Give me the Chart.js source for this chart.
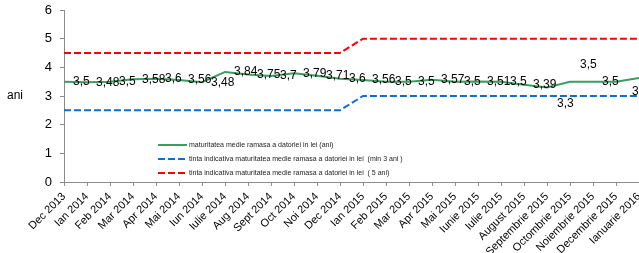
<!DOCTYPE html>
<html>
<head>
<meta charset="utf-8">
<script src="https://cdn.jsdelivr.net/npm/chart.js@4/dist/chart.umd.min.js"></script>
<style>
  html, body { margin: 0; padding: 0; background: #fff; }
</style>
</head>
<body>
<canvas id="myChart" width="639" height="253"></canvas>
<script>
// date
const luni = [
  "Dec 2013", "Ian 2014", "Feb 2014", "Mar 2014", "Apr 2014", "Mai 2014",
  "Iun 2014", "Iulie 2014", "Aug 2014", "Sept 2014", "Oct 2014", "Noi 2014",
  "Dec 2014", "Ian 2015", "Feb 2015", "Mar 2015", "Apr 2015", "Mai 2015",
  "Iunie 2015", "Iulie 2015", "August 2015", "Septembrie 2015",
  "Octombrie 2015", "Noiembrie 2015", "Decembrie 2015", "Ianuarie 2016"
];
const maturitate = [
  3.5, 3.48, 3.5, 3.58, 3.6, 3.56, 3.48, 3.84, 3.75, 3.7, 3.79, 3.71, 3.6,
  3.56, 3.5, 3.5, 3.57, 3.5, 3.51, 3.5, 3.39, 3.3, 3.5, 3.5, 3.5, 3.63
];
const tintaMin3 = [
  2.5, 2.5, 2.5, 2.5, 2.5, 2.5, 2.5, 2.5, 2.5, 2.5, 2.5, 2.5, 2.5,
  3, 3, 3, 3, 3, 3, 3, 3, 3, 3, 3, 3, 3
];
const tinta5 = [
  4.5, 4.5, 4.5, 4.5, 4.5, 4.5, 4.5, 4.5, 4.5, 4.5, 4.5, 4.5, 4.5,
  5, 5, 5, 5, 5, 5, 5, 5, 5, 5, 5, 5, 5
];
const valoriAx = [0, 1, 2, 3, 4, 5, 6];
const numeSerii = [
  "maturitatea medie ramasa a datoriei in lei (ani)",
  "tinta indicativa maturitatea medie ramasa a datoriei in lei  (min 3 ani )",
  "tinta indicativa maturitatea medie ramasa a datoriei in lei  ( 5 ani)"
];

// etichetele care nu stau in dreapta punctului (dx, dy)
const mutareEticheta = { 21: [10, 16], 22: [10, -17], 24: [16, 10] };

Chart.defaults.font.family = "'Liberation Sans', Arial, sans-serif";
Chart.defaults.color = "#000";

const etichetePuncte = {
  id: "etichetePuncte",
  afterDatasetsDraw(chart) {
    const ctx = chart.ctx;
    const meta = chart.getDatasetMeta(0);
    ctx.save();
    ctx.font = "12px 'Liberation Sans', Arial, sans-serif";
    ctx.fillStyle = "#000";
    ctx.textAlign = "left";
    ctx.textBaseline = "middle";
    meta.data.forEach((pt, i) => {
      const m = mutareEticheta[i] || [9, 0];
      const txt = String(maturitate[i]).replace(".", ",");
      ctx.fillText(txt, pt.x + m[0], pt.y + m[1]);
    });
    ctx.restore();
  },
};

const legendaInterna = {
  id: "legendaInterna",
  afterDraw(chart) {
    const ctx = chart.ctx;
    ctx.save();
    ctx.font = "7px 'Liberation Sans', Arial, sans-serif";
    ctx.textBaseline = "middle";
    ctx.textAlign = "left";
    chart.data.datasets.forEach((ds, i) => {
      const y = 145 + i * 14;
      ctx.strokeStyle = ds.borderColor;
      ctx.lineWidth = 2;
      ctx.setLineDash(ds.borderDash || []);
      ctx.beginPath();
      ctx.moveTo(158, y);
      ctx.lineTo(187, y);
      ctx.stroke();
      ctx.setLineDash([]);
      ctx.fillStyle = "#222";
      ctx.fillText(numeSerii[i], 189, y);
    });
    // titlul axei
    ctx.font = "12px 'Liberation Sans', Arial, sans-serif";
    ctx.fillStyle = "#000";
    ctx.fillText("ani", 7, chart.scales.y.getPixelForValue(3));
    ctx.restore();
  },
};

const ctx = document.getElementById("myChart").getContext("2d");
new Chart(ctx, {
  type: "line",
  data: {
    labels: luni,
    datasets: [
      {
        label: numeSerii[0],
        data: maturitate,
        borderColor: "#3a9e63",
        borderWidth: 2,
        pointRadius: 0,
        tension: 0,
      },
      {
        label: numeSerii[1],
        data: tintaMin3,
        borderColor: "#0a6fd0",
        borderWidth: 2,
        borderDash: [7, 3],
        pointRadius: 0,
        tension: 0,
      },
      {
        label: numeSerii[2],
        data: tinta5,
        borderColor: "#ff0000",
        borderWidth: 2,
        borderDash: [7, 3],
        pointRadius: 0,
        tension: 0,
      },
    ],
  },
  options: {
    responsive: false,
    animation: false,
    layout: { padding: { top: 10, right: 0, bottom: 0, left: 0 } },
    plugins: {
      legend: { display: false },
      tooltip: { enabled: false },
    },
    scales: {
      x: {
        grid: {
          drawOnChartArea: false,
          drawTicks: true,
          tickLength: 4,
          color: "#8c8c8c",
        },
        border: { color: "#8c8c8c" },
        ticks: {
          autoSkip: false,
          minRotation: 45,
          maxRotation: 45,
          padding: 4,
          font: { size: 11 },
        },
        afterFit(scale) {
          scale.height = 71;
          scale.paddingLeft = 0;
          scale.paddingRight = 0;
        },
      },
      y: {
        min: 0,
        max: 6,
        afterBuildTicks(scale) {
          scale.ticks = valoriAx.map((v) => ({ value: v }));
        },
        grid: {
          drawOnChartArea: false,
          drawTicks: true,
          tickLength: 4,
          color: "#8c8c8c",
        },
        border: { color: "#8c8c8c" },
        ticks: {
          padding: 8,
          font: { size: 13 },
        },
        afterFit(scale) {
          scale.width = 64;
          scale.paddingTop = 0;
          scale.paddingBottom = 0;
        },
      },
    },
  },
  plugins: [etichetePuncte, legendaInterna],
});
</script>
</body>
</html>
